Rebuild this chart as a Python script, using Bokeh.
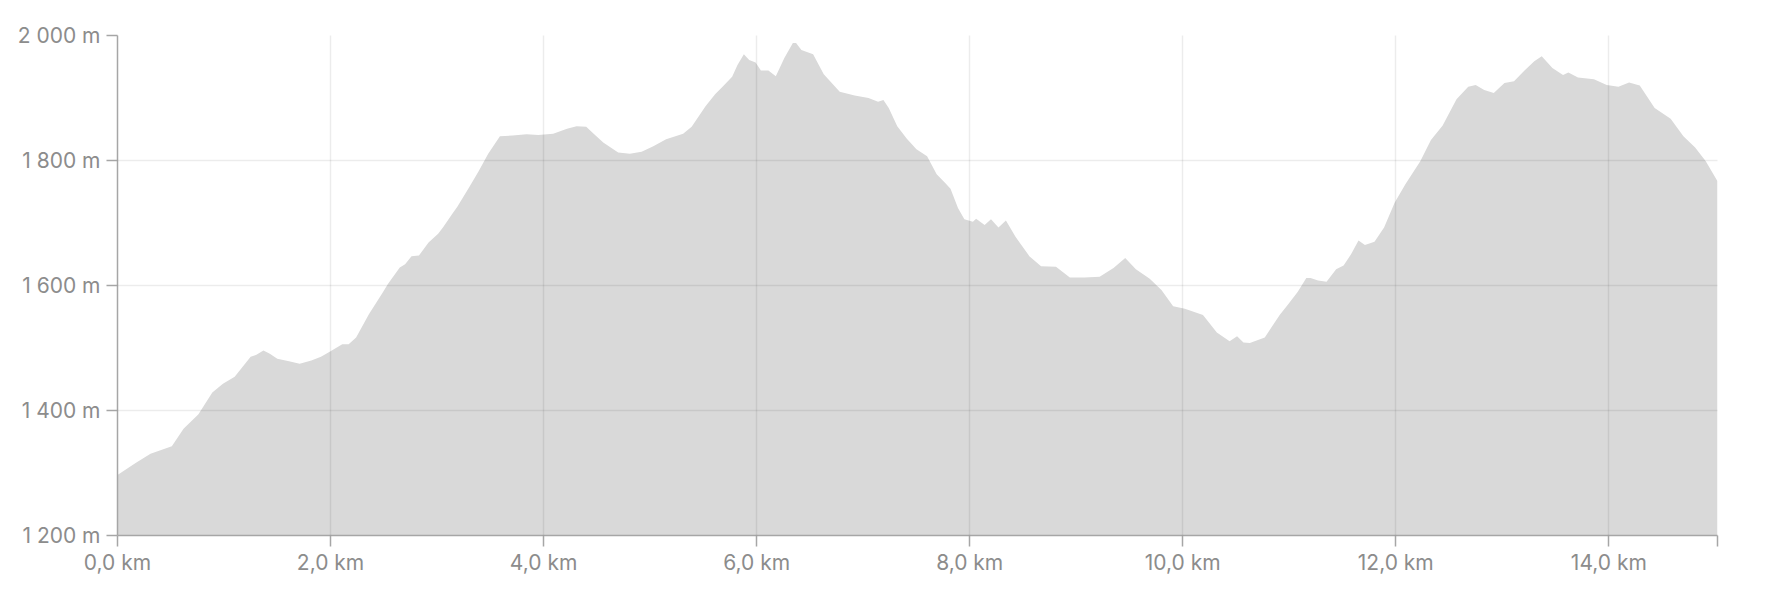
from bokeh.plotting import figure
from bokeh.models import Range1d, FixedTicker, CustomJSTickFormatter, ColumnDataSource
from bokeh.embed import file_html
from bokeh.resources import INLINE

# distance along the route (km) and elevation (m)
distance_km = [
    0.00, 0.17, 0.31, 0.51, 0.62, 0.76, 0.89, 0.99, 1.10, 1.25, 1.30, 1.37, 1.43, 1.50,
    1.61, 1.71, 1.82, 1.91, 2.00, 2.11, 2.17, 2.24, 2.36, 2.49, 2.54, 2.65, 2.70, 2.76,
    2.83, 2.92, 3.01, 3.06, 3.14, 3.19, 3.30, 3.39, 3.48, 3.59, 3.71, 3.84, 3.95, 4.09,
    4.22, 4.31, 4.40, 4.47, 4.56, 4.70, 4.81, 4.92, 5.03, 5.15, 5.31, 5.39, 5.52, 5.61,
    5.68, 5.77, 5.82, 5.88, 5.93, 5.99, 6.04, 6.11, 6.18, 6.26, 6.34, 6.37, 6.42, 6.53,
    6.63, 6.78, 6.92, 7.05, 7.14, 7.19, 7.24, 7.32, 7.41, 7.50, 7.60, 7.69, 7.77, 7.82,
    7.89, 7.95, 8.03, 8.06, 8.14, 8.20, 8.27, 8.34, 8.43, 8.56, 8.67, 8.81, 8.94, 9.08,
    9.22, 9.35, 9.46, 9.56, 9.69, 9.80, 9.91, 10.02, 10.19, 10.32, 10.44, 10.51, 10.57,
    10.63, 10.77, 10.91, 10.99, 11.08, 11.16, 11.20, 11.27, 11.35, 11.44, 11.51, 11.58,
    11.65, 11.71, 11.80, 11.89, 11.99, 12.09, 12.23, 12.33, 12.44, 12.57, 12.68, 12.75,
    12.83, 12.92, 13.02, 13.11, 13.19, 13.30, 13.37, 13.47, 13.57, 13.62, 13.71, 13.86,
    13.98, 14.09, 14.19, 14.29, 14.43, 14.58, 14.70, 14.81, 14.91, 15.02,
]
elevation_m = [
    1297, 1316, 1331, 1343, 1371, 1394, 1429, 1443, 1454, 1486, 1489, 1496, 1491, 1483,
    1479, 1475, 1480, 1486, 1495, 1506, 1506, 1517, 1554, 1589, 1603, 1629, 1634, 1647,
    1648, 1669, 1683, 1694, 1714, 1726, 1757, 1783, 1811, 1839, 1840, 1842, 1841, 1843,
    1851, 1855, 1854, 1843, 1829, 1813, 1811, 1814, 1823, 1834, 1843, 1854, 1887, 1906,
    1918, 1934, 1953, 1970, 1961, 1957, 1944, 1944, 1935, 1964, 1988, 1988, 1977, 1970,
    1938, 1910, 1904, 1900, 1894, 1897, 1884, 1855, 1835, 1818, 1807, 1778, 1764, 1755,
    1724, 1706, 1702, 1707, 1697, 1706, 1693, 1704, 1678, 1647, 1631, 1630, 1613, 1613,
    1614, 1628, 1644, 1626, 1611, 1593, 1567, 1563, 1553, 1525, 1511, 1519, 1509,
    1508, 1517, 1553, 1570, 1590, 1612, 1612, 1608, 1606, 1626, 1632, 1650,
    1672, 1665, 1670, 1693, 1733, 1762, 1799, 1833, 1856, 1898, 1918, 1921,
    1913, 1908, 1924, 1927, 1941, 1959, 1967, 1948, 1937, 1941, 1933, 1930,
    1921, 1918, 1925, 1920, 1884, 1867, 1839, 1821, 1799, 1767,
]

x_ticks = [0, 2, 4, 6, 8, 10, 12, 14]
x_tick_labels = ["0,0 km", "2,0 km", "4,0 km", "6,0 km", "8,0 km", "10,0 km", "12,0 km", "14,0 km"]
y_ticks = [1200, 1400, 1600, 1800, 2000]
y_tick_labels = ["1 200 m", "1 400 m", "1 600 m", "1 800 m", "2 000 m"]

x_end = distance_km[-1]
y_base = y_ticks[0]

FONT = "Inter"
LABEL_COLOR = "#8c8c8c"
AXIS_COLOR = "#a6a6a6"

p = figure(
    width=1760, height=592,
    output_backend="svg", toolbar_location=None,
    x_range=Range1d(0, x_end), y_range=Range1d(y_ticks[0], y_ticks[-1]),
    min_border_left=117, min_border_right=43, min_border_top=35, min_border_bottom=57,
    background_fill_color="white", border_fill_color="white",
)
p.outline_line_color = None

src = ColumnDataSource(dict(x=distance_km, y=elevation_m, base=[y_base] * len(distance_km)))
p.varea(x="x", y1="base", y2="y", source=src, fill_color="#d9d9d9")

TICK_CODE = """
    for (let i = 0; i < vals.length; i++) {
        if (Math.abs(vals[i] - tick) < 1e-6) return labels[i];
    }
    return "";
"""
p.xaxis.ticker = FixedTicker(ticks=x_ticks + [x_end])
p.xaxis.formatter = CustomJSTickFormatter(args=dict(vals=x_ticks, labels=x_tick_labels), code=TICK_CODE)
p.yaxis.ticker = FixedTicker(ticks=y_ticks)
p.yaxis.formatter = CustomJSTickFormatter(args=dict(vals=y_ticks, labels=y_tick_labels), code=TICK_CODE)

for ax in (p.xaxis[0], p.yaxis[0]):
    ax.axis_line_color = AXIS_COLOR
    ax.axis_line_width = 1.5
    ax.major_tick_line_color = AXIS_COLOR
    ax.major_tick_line_width = 1.5
    ax.major_tick_in = 0
    ax.major_tick_out = 11
    ax.minor_tick_line_color = None
    ax.major_label_text_font = FONT
    ax.major_label_text_font_size = "21px"
    ax.major_label_text_color = LABEL_COLOR
p.xaxis.major_label_standoff = 3
p.yaxis.major_label_standoff = 6

p.xgrid.ticker = FixedTicker(ticks=x_ticks)
p.ygrid.ticker = FixedTicker(ticks=y_ticks)
for g in (p.xgrid[0], p.ygrid[0]):
    g.grid_line_color = "black"
    g.grid_line_alpha = 0.075
    g.grid_line_width = 1.5
    g.level = "overlay"

open("out.html", "w").write(file_html(p, INLINE))
